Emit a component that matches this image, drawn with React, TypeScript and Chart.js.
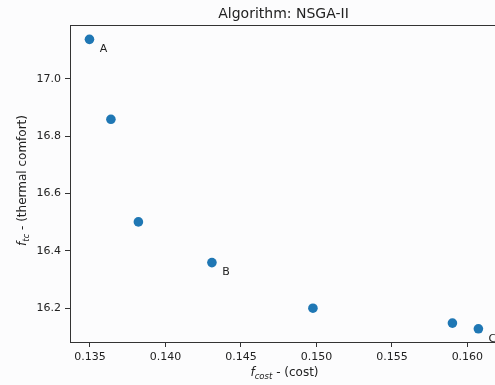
import React, { useEffect, useRef } from "react";
import { Chart, registerables } from "chart.js";
Chart.register(...registerables);

const costValues = [0.13497, 0.13639, 0.13821, 0.14308, 0.14977, 0.15901, 0.16073];
const comfortValues = [17.138, 16.859, 16.501, 16.359, 16.2, 16.148, 16.128];
const pointLabels = ["A", "", "", "B", "", "", "C"];
const xTicks = [0.135, 0.14, 0.145, 0.15, 0.155, 0.16];
const yTicks = [16.2, 16.4, 16.6, 16.8, 17.0];
const titleText = "Algorithm: NSGA-II";
const FONT = "'DejaVu Sans', sans-serif";

function drawComposite(ctx: CanvasRenderingContext2D, parts: { t: string; italic?: boolean; sub?: boolean }[], cx: number, cy: number) {
  const fontFor = (p: any) => `${p.italic ? "italic " : ""}${p.sub ? 8.5 : 12}px ${FONT}`;
  let total = 0;
  const widths = parts.map((p) => {
    ctx.font = fontFor(p);
    const w = ctx.measureText(p.t).width;
    total += w;
    return w;
  });
  let x = cx - total / 2;
  ctx.textBaseline = "alphabetic";
  ctx.textAlign = "left";
  parts.forEach((p, i) => {
    ctx.font = fontFor(p);
    ctx.fillText(p.t, x, cy + (p.sub ? 3 : 0));
    x += widths[i];
  });
}

const decorPlugin = {
  id: "decor",
  beforeDraw(chart: any) {
    const ctx = chart.ctx;
    ctx.save();
    ctx.fillStyle = "#fcfcfd";
    ctx.fillRect(0, 0, chart.width, chart.height);
    ctx.restore();
  },
  afterDraw(chart: any) {
    const ctx = chart.ctx as CanvasRenderingContext2D;
    const area = chart.chartArea;
    ctx.save();
    ctx.strokeStyle = "#333";
    ctx.lineWidth = 1;
    ctx.beginPath();
    ctx.moveTo(area.left, area.top + 0.5);
    ctx.lineTo(area.right, area.top + 0.5);
    ctx.stroke();

    // point labels
    const meta = chart.getDatasetMeta(0);
    ctx.fillStyle = "#222";
    ctx.font = `11px ${FONT}`;
    ctx.textAlign = "center";
    ctx.textBaseline = "middle";
    meta.data.forEach((pt: any, i: number) => {
      const lbl = pointLabels[i];
      if (lbl) ctx.fillText(lbl, pt.x + 14, pt.y + 10);
    });

    // title
    ctx.font = `14px ${FONT}`;
    ctx.textAlign = "center";
    ctx.textBaseline = "alphabetic";
    ctx.fillText(titleText, (area.left + area.right) / 2 + 1, 18);

    // x axis title
    ctx.fillStyle = "#222";
    drawComposite(
      ctx,
      [{ t: "f", italic: true }, { t: "cost", italic: true, sub: true }, { t: " - (cost)" }],
      (area.left + area.right) / 2 + 2,
      376
    );

    // y axis title
    ctx.save();
    ctx.translate(26, (area.top + area.bottom) / 2 - 3);
    ctx.rotate(-Math.PI / 2);
    drawComposite(
      ctx,
      [{ t: "f", italic: true }, { t: "tc", italic: true, sub: true }, { t: " - (thermal comfort)" }],
      0,
      0
    );
    ctx.restore();
    ctx.restore();
  },
};

export default function App() {
  const ref = useRef<HTMLCanvasElement>(null);
  useEffect(() => {
    document.body.style.margin = "0";
    const chart = new Chart(ref.current!, {
      type: "scatter",
      data: {
        datasets: [
          {
            data: costValues.map((x, i) => ({ x, y: comfortValues[i] })),
            backgroundColor: "#1f77b4",
            borderWidth: 0,
            pointRadius: 4.8,
            clip: false,
          },
        ],
      },
      options: {
        animation: false,
        responsive: false,
        devicePixelRatio: 1,
        layout: { autoPadding: false, padding: { top: 25, right: 0, left: 0, bottom: 0 } },
        plugins: { legend: { display: false }, tooltip: { enabled: false }, title: { display: false } },
        scales: {
          x: {
            type: "linear",
            min: 0.13368,
            max: 0.16183,
            afterBuildTicks: (s: any) => {
              s.ticks = xTicks.map((v) => ({ value: v }));
            },
            afterFit: (s: any) => {
              s.height = 43;
              s.paddingLeft = 0;
              s.paddingRight = 0;
            },
            ticks: {
              color: "#222",
              font: { family: FONT, size: 11 },
              padding: 4,
              maxRotation: 0,
              callback: (v: any) => Number(v).toFixed(3),
            },
            grid: { drawOnChartArea: false, drawTicks: true, tickLength: 5, color: "#333" },
            border: { color: "#333", width: 1 },
          },
          y: {
            type: "linear",
            min: 16.082,
            max: 17.188,
            afterBuildTicks: (s: any) => {
              s.ticks = yTicks.map((v) => ({ value: v }));
            },
            afterFit: (s: any) => {
              s.width = 70;
              s.paddingTop = 0;
              s.paddingBottom = 0;
            },
            ticks: {
              color: "#222",
              font: { family: FONT, size: 11 },
              padding: 4,
              callback: (v: any) => Number(v).toFixed(1),
            },
            grid: { drawOnChartArea: false, drawTicks: true, tickLength: 5, color: "#333" },
            border: { color: "#333", width: 1 },
          },
        },
      },
      plugins: [decorPlugin],
    } as any);
    return () => chart.destroy();
  }, []);
  return <canvas ref={ref} width={495} height={385} style={{ display: "block" }} />;
}
